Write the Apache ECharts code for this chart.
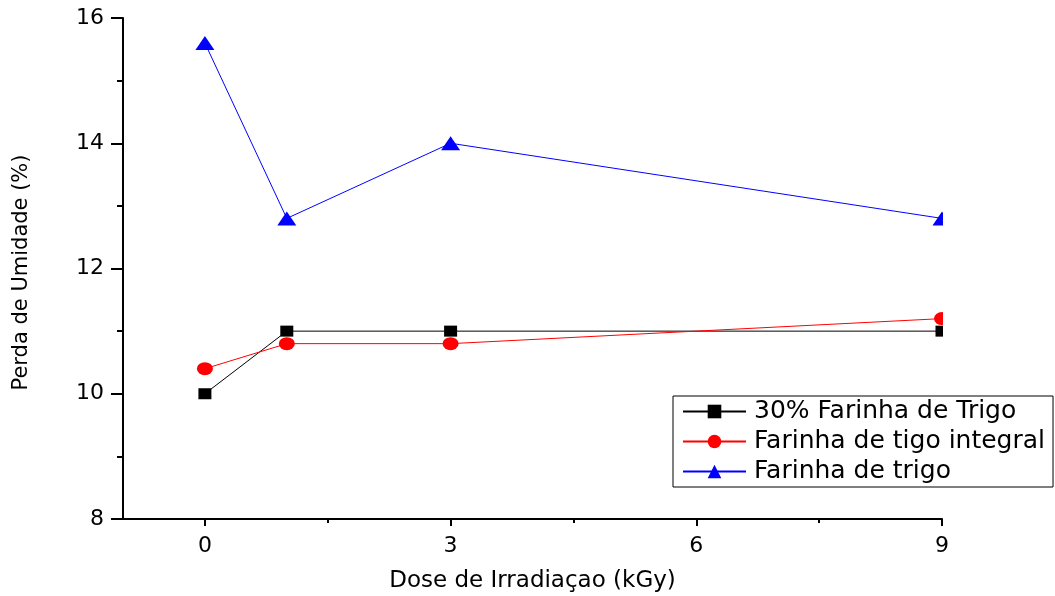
<!DOCTYPE html>
<html>
<head>
<meta charset="utf-8">
<script src="https://cdn.jsdelivr.net/npm/echarts@6/dist/echarts.min.js"></script>
<style>
  html, body { margin: 0; padding: 0; background: #fff; }
</style>
</head>
<body>
<div id="chart" style="width: 1055px;height:596px;"></div>
<script>
// dose (kGy)
const doses = [0, 1, 3, 9]
const farinha30 = [10.0, 11.0, 11.0, 11.0]
const farinhaIntegral = [10.4, 10.8, 10.8, 11.2]
const farinhaTrigo = [15.6, 12.8, 14.0, 12.8]
const xMajorTicks = [0, 3, 6, 9]
const xMinorTicks = [1.5, 4.5, 7.5]

const FONT = '"DejaVu Sans", "Liberation Sans", Arial, sans-serif'

function pairs (ys) {
  return doses.map((d, i) => [d, ys[i]])
}

const chart = echarts.init(document.getElementById('chart'))
chart.setOption({
  animation: false,
  textStyle: { fontFamily: FONT, color: '#000' },
  legend: {
    orient: 'vertical',
    left: 673,
    top: 396,
    padding: [3, 8, 3, 9],
    itemGap: 5,
    itemWidth: 63,
    itemHeight: 17,
    borderColor: '#000',
    borderWidth: 1,
    textStyle: { fontSize: 25, color: '#000', fontFamily: FONT, padding: [0, 0, 0, 3] },
    data: ['30% Farinha de Trigo', 'Farinha de tigo integral', 'Farinha de trigo']
  },
  grid: {
    left: 123,
    right: 113,
    top: 18,
    bottom: 77,
    outerBoundsMode: 'none'
  },
  xAxis: [
    {
      type: 'value',
      min: -1,
      max: 9,
      name: 'Dose de Irradiaçao (kGy)',
      nameLocation: 'middle',
      nameGap: 51,
      nameTextStyle: { fontSize: 23, color: '#000', fontFamily: FONT },
      splitLine: { show: false },
      axisLine: { onZero: false, lineStyle: { color: '#000', width: 2 } },
      axisTick: { customValues: xMajorTicks, length: 7, lineStyle: { color: '#000', width: 2 } },
      axisLabel: { customValues: xMajorTicks, fontSize: 22, color: '#000', margin: 16, fontFamily: FONT }
    },
    {
      // minor ticks
      type: 'value',
      min: -1,
      max: 9,
      position: 'bottom',
      splitLine: { show: false },
      axisLine: { show: false, onZero: false },
      axisTick: { customValues: xMinorTicks, length: 4, lineStyle: { color: '#000', width: 2 } },
      axisLabel: { show: false }
    }
  ],
  yAxis: {
    type: 'value',
    min: 8,
    max: 16,
    interval: 2,
    name: 'Perda de Umidade (%)',
    nameLocation: 'middle',
    nameGap: 91,
    nameTextStyle: { fontSize: 21, color: '#000', fontFamily: FONT, padding: [0, 8, 0, 0] },
    splitLine: { show: false },
    axisLine: { show: true, onZero: false, lineStyle: { color: '#000', width: 2 } },
    axisTick: { length: 12, lineStyle: { color: '#000', width: 2 } },
    minorTick: { show: true, splitNumber: 2, length: 6, lineStyle: { color: '#000', width: 2 } },
    axisLabel: { fontSize: 22, color: '#000', margin: 19, fontFamily: FONT }
  },
  series: [
    {
      name: '30% Farinha de Trigo',
      type: 'line',
      data: pairs(farinha30),
      symbol: 'rect',
      symbolSize: [13, 11],
      itemStyle: { color: '#000' },
      lineStyle: { color: '#000', width: 1 }
    },
    {
      name: 'Farinha de tigo integral',
      type: 'line',
      data: pairs(farinhaIntegral),
      symbol: 'circle',
      symbolSize: [16, 13],
      itemStyle: { color: '#ff0000' },
      lineStyle: { color: '#ff0000', width: 1 }
    },
    {
      name: 'Farinha de trigo',
      type: 'line',
      data: pairs(farinhaTrigo),
      symbol: 'triangle',
      symbolSize: [19, 14],
      itemStyle: { color: '#0000ff' },
      lineStyle: { color: '#0000ff', width: 1 }
    }
  ]
})

// the original plot cuts the markers at the right edge of the frame
const edgeX = chart.convertToPixel({ xAxisIndex: 0 }, 9)
const topY = chart.convertToPixel({ yAxisIndex: 0 }, 16)
const legendTopY = chart.convertToPixel({ yAxisIndex: 0 }, 10)
chart.setOption({
  graphic: [{
    type: 'rect',
    z: 100,
    shape: { x: edgeX + 1, y: topY, width: 20, height: legendTopY - topY },
    style: { fill: '#fff' }
  }]
})
</script>
</body>
</html>
